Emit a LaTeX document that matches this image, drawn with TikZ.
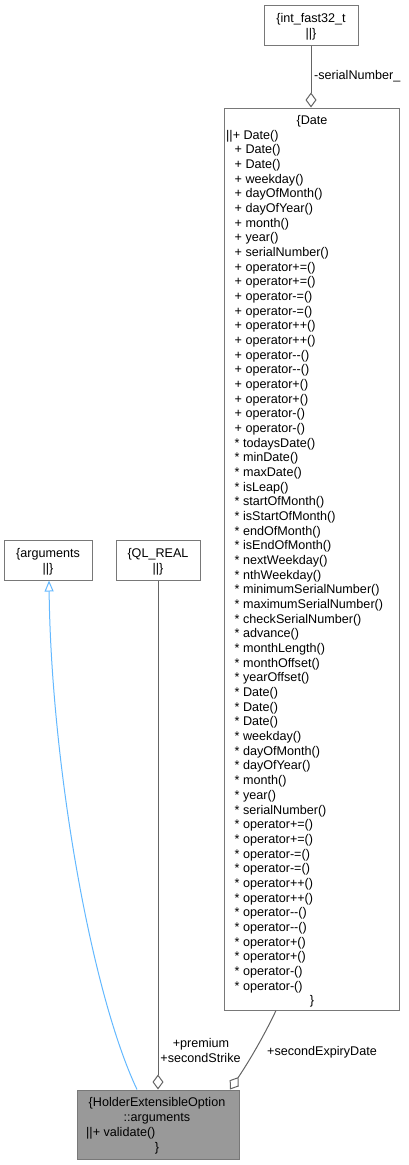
\documentclass[tikz,border=0pt]{standalone}
\usepackage{fontspec}
\setmainfont{Liberation Sans}
\usetikzlibrary{arrows.meta}
\definecolor{boxgray}{RGB}{120,120,120}
\definecolor{edgegray}{RGB}{100,100,100}
\definecolor{holderfill}{RGB}{153,153,153}
\definecolor{inhblue}{RGB}{99,184,255}
\newcommand{\mm}{-\kern0pt-}
\tikzset{
  box/.style={draw=boxgray, line width=1pt, inner sep=0pt, fill=white},
  txt/.style={inner sep=0pt, font=\fontsize{12.6}{14.67}\selectfont},
  edge/.style={draw=edgegray, line width=1pt, -{Diamond[fill=white, length=15pt, width=11pt, line width=1pt]}},
  inh/.style={draw=inhblue, line width=1pt, -{Triangle[fill=white, length=11pt, width=9pt, line width=1pt]}},
}
\begin{document}
\begin{tikzpicture}[x=1pt, y=-1pt]
\useasboundingbox (0,0) rectangle (409,1165);
% boxes
\node[box, minimum width=94pt, minimum height=40pt] (int) at (311,25) {};
\node[box, minimum width=175pt, minimum height=902pt] (date) at (311.5,559) {};
\node[box, minimum width=88pt, minimum height=40pt] (args) at (48,560) {};
\node[box, minimum width=84pt, minimum height=40pt] (ql) at (158,560) {};
\node[box, fill=holderfill, minimum width=162pt, minimum height=69pt] (holder) at (158,1124.5) {};
% int_fast32_t text
\node[txt, anchor=base] (int1) at (311,22.5) {\{int\_fast32\_t};
\node[txt, anchor=base] (int2) at (311,37.2) {||\}};
% arguments text
\node[txt, anchor=base] (args1) at (48,557.5) {\{arguments};
\node[txt, anchor=base] (args2) at (48,572) {||\}};
% QL_REAL text
\node[txt, anchor=base] (ql1) at (158,557.5) {\{QL\_REAL};
\node[txt, anchor=base] (ql2) at (158,572) {||\}};
% Date text
\node[txt, anchor=base] (d0) at (312,124.5) {\{Date};
\node[txt, anchor=base west] (d1) at (226,{124.5+14.67}) {||+ Date()};
\foreach \t [count=\i from 2] in {
  + Date(), + Date(), + weekday(), + dayOfMonth(), + dayOfYear(), + month(), + year(),
  + serialNumber(), + operator+=(), + operator+=(), + operator-=(), + operator-=(),
  + operator++(), + operator++(), + operator\mm(), + operator\mm(), + operator+(), + operator+(),
  + operator-(), + operator-(),
  * todaysDate(), * minDate(), * maxDate(), * isLeap(), * startOfMonth(), * isStartOfMonth(),
  * endOfMonth(), * isEndOfMonth(), * nextWeekday(), * nthWeekday(), * minimumSerialNumber(),
  * maximumSerialNumber(), * checkSerialNumber(), * advance(), * monthLength(), * monthOffset(),
  * yearOffset(), * Date(), * Date(), * Date(), * weekday(), * dayOfMonth(), * dayOfYear(),
  * month(), * year(), * serialNumber(), * operator+=(), * operator+=(), * operator-=(),
  * operator-=(), * operator++(), * operator++(), * operator\mm(), * operator\mm(),
  * operator+(), * operator+(), * operator-(), * operator-()}
  {\node[txt, anchor=base west] (d\i) at (234.5,{124.5+14.67*\i}) {\t};}
\node[txt, anchor=base] (dend) at (312,{124.5+14.67*60}) {\}};
% Holder text
\node[txt, anchor=base] (h1) at (157,1106) {\{HolderExtensibleOption};
\node[txt, anchor=base] (h2) at (157,1121) {::arguments};
\node[txt, anchor=base west] (h3) at (86,1136) {||+ validate()};
\node[txt, anchor=base] (h4) at (157,1151) {\}};
% connectors
\draw[edge] (int.south) -- (int.south |- date.north);
\node[txt, anchor=base west] (lserial) at (314,79.5) {-serialNumber\_};
\draw[edge] (ql.south) -- (ql.south |- holder.north);
\node[txt, anchor=base] (lprem) at (201,1047) {+premium};
\node[txt, anchor=base] (lstrike) at (200.5,1062) {+secondStrike};
\draw[edge] ([xshift=-35.5pt]date.south) .. controls (262,1040) and (246,1066) .. ([xshift=72pt]holder.north);
\node[txt, anchor=base west] (lexp) at (267,1055) {+secondExpiryDate};
\draw[inh] ([xshift=-21pt]holder.north) .. controls (90,990) and (51,760) .. ([xshift=1pt]args.south);
\end{tikzpicture}
\end{document}
